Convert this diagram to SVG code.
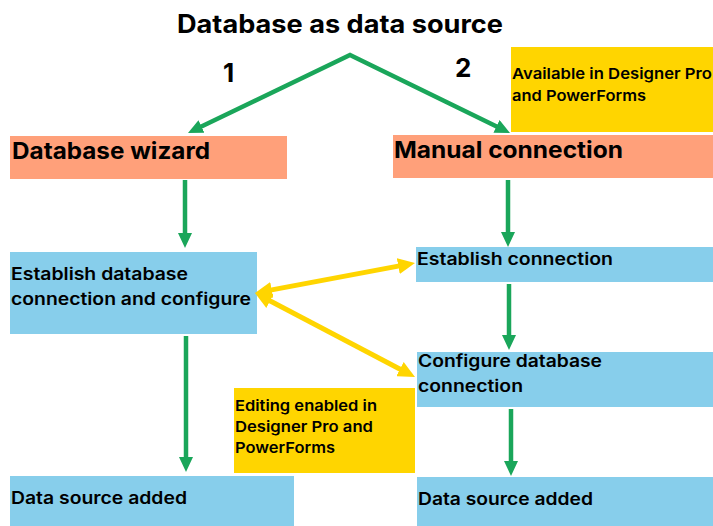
<svg xmlns="http://www.w3.org/2000/svg" width="713" height="526" viewBox="0 0 713 526">
<style>
text{font-family:Inter,"Liberation Sans",Arial,sans-serif;fill:#000;}
.t{font-size:25px;font-weight:700;}
.n{font-size:26px;font-weight:700;}
.h{font-size:23px;font-weight:700;}
.b{font-size:17px;font-weight:600;}
.s{font-size:15px;font-weight:600;}
.salmon{fill:#FFA07A;}
.blue{fill:#87CEEB;}
.yel{fill:#FFD500;}
.g{stroke:#1AA65A;stroke-width:4.5;fill:none;}
.y{stroke:#FFD500;stroke-width:5;fill:none;}
</style>
<defs>
<marker id="gh" markerUnits="userSpaceOnUse" markerWidth="15" markerHeight="14" refX="3" refY="7" orient="auto-start-reverse">
<path d="M0,0 L15,7 L0,14 z" fill="#1AA65A"/>
</marker>
<marker id="yh" markerUnits="userSpaceOnUse" markerWidth="17" markerHeight="16" refX="4" refY="8" orient="auto-start-reverse">
<path d="M0,0 L17,8 L0,16 z" fill="#FFD500"/>
</marker>
</defs>
<rect width="713" height="526" fill="#fff"/>
<g id="title">
<text class="t" x="177" y="33" textLength="326" lengthAdjust="spacingAndGlyphs">Database as data source</text>
<text class="n" x="223" y="82">1</text>
<text class="n" x="455" y="77">2</text>
</g>
<g id="note-available">
<rect class="yel" x="511" y="47" width="202" height="85"/>
<text class="s" x="512" y="79" textLength="200" lengthAdjust="spacingAndGlyphs">Available in Designer Pro</text>
<text class="s" x="512" y="101" textLength="134" lengthAdjust="spacingAndGlyphs">and PowerForms</text>
</g>
<g id="database-wizard">
<rect class="salmon" x="10" y="136" width="277" height="43"/>
<text class="h" x="12" y="159" textLength="198" lengthAdjust="spacingAndGlyphs">Database wizard</text>
</g>
<g id="manual-connection">
<rect class="salmon" x="393" y="135" width="320" height="43"/>
<text class="h" x="394" y="158" textLength="229" lengthAdjust="spacingAndGlyphs">Manual connection</text>
</g>
<g id="establish-configure">
<rect class="blue" x="10" y="252" width="247" height="82"/>
<text class="b" x="11" y="280" textLength="177" lengthAdjust="spacingAndGlyphs">Establish database</text>
<text class="b" x="11" y="305" textLength="240" lengthAdjust="spacingAndGlyphs">connection and configure</text>
</g>
<g id="establish-connection">
<rect class="blue" x="416" y="247" width="297" height="35"/>
<text class="b" x="417" y="265" textLength="196" lengthAdjust="spacingAndGlyphs">Establish connection</text>
</g>
<g id="configure-connection">
<rect class="blue" x="417" y="352" width="296" height="55"/>
<text class="b" x="418" y="367" textLength="184" lengthAdjust="spacingAndGlyphs">Configure database</text>
<text class="b" x="418" y="392" textLength="105" lengthAdjust="spacingAndGlyphs">connection</text>
</g>
<g id="note-editing">
<rect class="yel" x="234" y="388" width="181" height="85"/>
<text class="s" x="235" y="411" textLength="142" lengthAdjust="spacingAndGlyphs">Editing enabled in</text>
<text class="s" x="235" y="432" textLength="138" lengthAdjust="spacingAndGlyphs">Designer Pro and</text>
<text class="s" x="235" y="453" textLength="100" lengthAdjust="spacingAndGlyphs">PowerForms</text>
</g>
<g id="data-source-left">
<rect class="blue" x="10" y="476" width="284" height="50"/>
<text class="b" x="11" y="504" textLength="176" lengthAdjust="spacingAndGlyphs">Data source added</text>
</g>
<g id="data-source-right">
<rect class="blue" x="417" y="477" width="296" height="49"/>
<text class="b" x="418" y="505" textLength="175" lengthAdjust="spacingAndGlyphs">Data source added</text>
</g>
<g id="connectors">
<path class="g" d="M198.8,127.8 L350,55 L499.2,127.7" marker-start="url(#gh)" marker-end="url(#gh)"/>
<line class="g" x1="185" y1="180" x2="185" y2="236" marker-end="url(#gh)"/>
<line class="g" x1="186" y1="336" x2="186" y2="460" marker-end="url(#gh)"/>
<line class="g" x1="508" y1="180" x2="508" y2="235" marker-end="url(#gh)"/>
<line class="g" x1="509" y1="284" x2="509" y2="338" marker-end="url(#gh)"/>
<line class="g" x1="511" y1="409" x2="511" y2="464" marker-end="url(#gh)"/>
<line class="y" x1="267.8" y1="290.6" x2="402.2" y2="265.4" marker-start="url(#yh)" marker-end="url(#yh)"/>
<line class="y" x1="266.5" y1="299" x2="403.5" y2="371" marker-start="url(#yh)" marker-end="url(#yh)"/>
</g>
</svg>
